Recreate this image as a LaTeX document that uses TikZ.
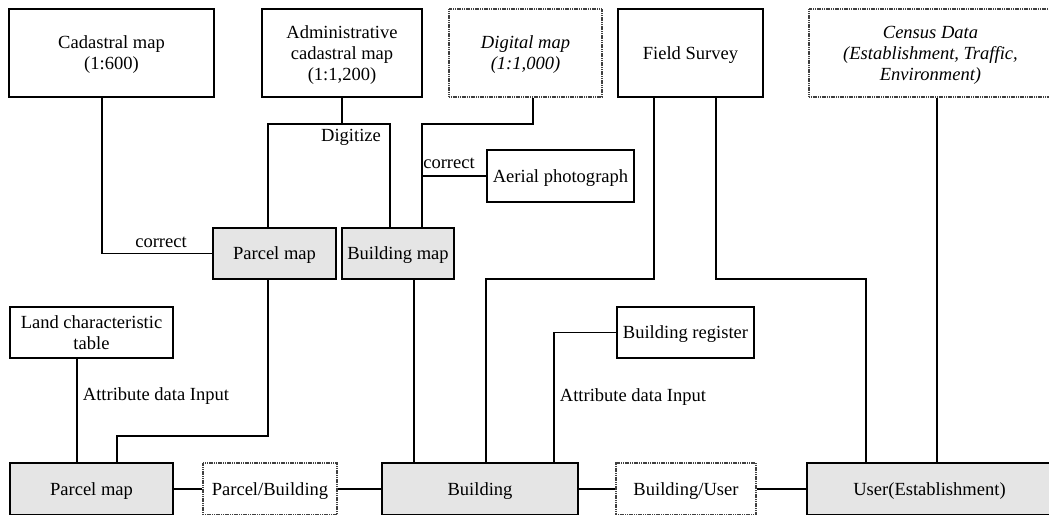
\documentclass[tikz,border=0pt]{standalone}
\usepackage{fontspec}
\setmainfont{Liberation Serif}
\begin{document}
\begin{tikzpicture}[x=0.75pt,y=-0.75pt,
  every node/.style={font=\fontsize{13.9pt}{15.8pt}\selectfont},
  sz/.style n args={2}{minimum width=#1*0.75pt,minimum height=#2*0.75pt},
  box/.style={draw=black,line width=1.4pt,fill=white,inner sep=0pt,align=center,text depth=-1.5pt},
  gbox/.style={box,fill=black!10},
  dbox/.style={draw=black!75,line width=2pt,dash pattern=on 0.9pt off 0.45pt,fill=white,inner sep=0pt,align=center,text depth=-1.5pt},
  conn/.style={line width=1.4pt},
  lbl/.style={inner sep=0pt}]
\useasboundingbox (0,0) rectangle (1049,514);
\clip (0,0) rectangle (1049,514);
% top row
\node[box,sz={205}{88}] (cad) at (111.5,53) {Cadastral map\\(1:600)};
\node[box,sz={160}{88}] (adm) at (342,53) {Administrative\\cadastral map\\(1:1,200)};
\node[dbox,sz={153}{88}] (dm) at (525.5,53) {\textit{Digital map}\\\textit{(1:1,000)}};
\node[box,sz={145}{88}] (fs) at (690.5,53) {Field Survey};
\node[dbox,sz={243}{88}] (cen) at (930.5,53) {\textit{Census Data}\\\textit{(Establishment, Traffic,}\\\textit{Environment)}};
% middle
\node[gbox,sz={123}{51}] (pmA) at (274.5,253.5) {Parcel map};
\node[gbox,sz={112}{51}] (bmA) at (398,253.5) {Building map};
\node[box,sz={147}{52}] (aer) at (560.5,176) {Aerial photograph};
\node[box,sz={163}{51},text depth=0pt] (lct) at (91.5,332.5) {Land characteristic\\table};
\node[box,sz={137}{51}] (br) at (685.5,332.5) {Building register};
% bottom row
\node[gbox,sz={163}{52}] (pmB) at (91.5,489) {Parcel map};
\node[dbox,sz={134}{52}] (pb) at (270,489) {Parcel/Building};
\node[gbox,sz={196}{52}] (bld) at (480,489) {Building};
\node[dbox,sz={140}{52}] (bu) at (686,489) {Building/User};
\node[gbox,sz={245}{52}] (usr) at (929.5,489) {User(Establishment)};
% helper coordinates
\coordinate (dig) at (342,124);
\coordinate (dmk) at (422,124);
% connectors
\draw[conn] (102,0|-cad.south) |- (pmA.west);
\draw[conn] (adm.south) -- (dig);
\draw[conn] (268,0|-pmA.north) |- (dig) -| (390,0|-bmA.north);
\draw[conn] (533,0|-dm.south) |- (dmk) -- (422,0|-bmA.north);
\draw[conn] (422,0|-aer.west) -- (aer.west);
\draw[conn] (654,0|-fs.south) -- (654,279) -| (486,0|-bld.north);
\draw[conn] (716,0|-fs.south) -- (716,279) -| (866,0|-usr.north);
\draw[conn] (937,0|-cen.south) -- (937,0|-usr.north);
\draw[conn] (414,0|-bmA.south) -- (414,0|-bld.north);
\draw[conn] (268,0|-pmA.south) -- (268,436) -| (117,0|-pmB.north);
\draw[conn] (77,0|-lct.south) -- (77,0|-pmB.north);
\draw[conn] (br.west) -| (554,0|-bld.north);
\draw[conn] (pmB.east) -- (pb.west);
\draw[conn] (pb.east) -- (bld.west);
\draw[conn] (bld.east) -- (bu.west);
\draw[conn] (bu.east) -- (usr.west);
% labels
\node[lbl] (l1) at (161,242) {correct};
\node[lbl] (l2) at (351,137) {Digitize};
\node[lbl] (l3) at (449,163) {correct};
\node[lbl] (l4) at (156,396) {Attribute data Input};
\node[lbl] (l5) at (633,397) {Attribute data Input};
\end{tikzpicture}
\end{document}
